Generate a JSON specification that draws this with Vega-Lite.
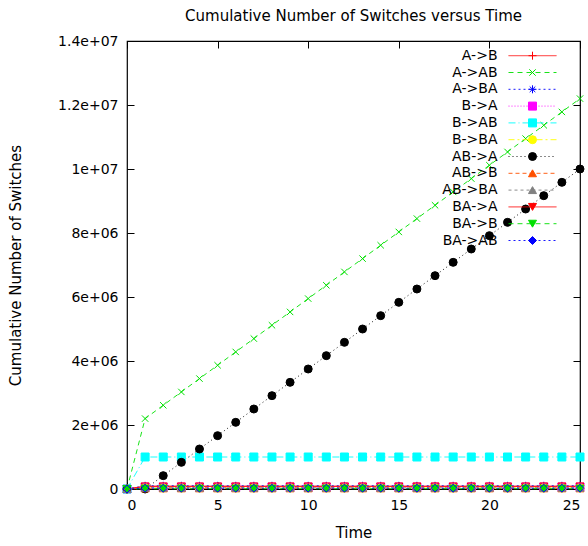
{
  "$schema": "https://vega.github.io/schema/vega-lite/v6.json",
  "autosize": {"type": "none"},
  "padding": {"left": 127, "top": 41, "right": 8, "bottom": 57},
  "width": 453,
  "height": 448,
  "background": "white",
  "title": {"text": "Cumulative Number of Switches versus Time", "offset": 10},
  "datasets": {
    "switches": [
      {"Time": 0, "A->B": 0, "A->AB": 0, "A->BA": 0, "B->A": 0, "B->AB": 0, "B->BA": 0, "AB->A": 0, "AB->B": 0, "AB->BA": 0, "BA->A": 0, "BA->B": 0, "BA->AB": 0},
      {"Time": 1, "A->B": 90000, "A->AB": 2200000, "A->BA": 100000, "B->A": 60000, "B->AB": 1000000, "B->BA": 30000, "AB->A": 0, "AB->B": 20000, "AB->BA": 40000, "BA->A": 80000, "BA->B": 10000, "BA->AB": 25000},
      {"Time": 2, "A->B": 90000, "A->AB": 2616667, "A->BA": 100000, "B->A": 60000, "B->AB": 1000000, "B->BA": 30000, "AB->A": 416667, "AB->B": 20000, "AB->BA": 40000, "BA->A": 80000, "BA->B": 10000, "BA->AB": 25000},
      {"Time": 3, "A->B": 90000, "A->AB": 3033333, "A->BA": 100000, "B->A": 60000, "B->AB": 1000000, "B->BA": 30000, "AB->A": 833333, "AB->B": 20000, "AB->BA": 40000, "BA->A": 80000, "BA->B": 10000, "BA->AB": 25000},
      {"Time": 4, "A->B": 90000, "A->AB": 3450000, "A->BA": 100000, "B->A": 60000, "B->AB": 1000000, "B->BA": 30000, "AB->A": 1250000, "AB->B": 20000, "AB->BA": 40000, "BA->A": 80000, "BA->B": 10000, "BA->AB": 25000},
      {"Time": 5, "A->B": 90000, "A->AB": 3866667, "A->BA": 100000, "B->A": 60000, "B->AB": 1000000, "B->BA": 30000, "AB->A": 1666667, "AB->B": 20000, "AB->BA": 40000, "BA->A": 80000, "BA->B": 10000, "BA->AB": 25000},
      {"Time": 6, "A->B": 90000, "A->AB": 4283333, "A->BA": 100000, "B->A": 60000, "B->AB": 1000000, "B->BA": 30000, "AB->A": 2083333, "AB->B": 20000, "AB->BA": 40000, "BA->A": 80000, "BA->B": 10000, "BA->AB": 25000},
      {"Time": 7, "A->B": 90000, "A->AB": 4700000, "A->BA": 100000, "B->A": 60000, "B->AB": 1000000, "B->BA": 30000, "AB->A": 2500000, "AB->B": 20000, "AB->BA": 40000, "BA->A": 80000, "BA->B": 10000, "BA->AB": 25000},
      {"Time": 8, "A->B": 90000, "A->AB": 5116667, "A->BA": 100000, "B->A": 60000, "B->AB": 1000000, "B->BA": 30000, "AB->A": 2916667, "AB->B": 20000, "AB->BA": 40000, "BA->A": 80000, "BA->B": 10000, "BA->AB": 25000},
      {"Time": 9, "A->B": 90000, "A->AB": 5533333, "A->BA": 100000, "B->A": 60000, "B->AB": 1000000, "B->BA": 30000, "AB->A": 3333333, "AB->B": 20000, "AB->BA": 40000, "BA->A": 80000, "BA->B": 10000, "BA->AB": 25000},
      {"Time": 10, "A->B": 90000, "A->AB": 5950000, "A->BA": 100000, "B->A": 60000, "B->AB": 1000000, "B->BA": 30000, "AB->A": 3750000, "AB->B": 20000, "AB->BA": 40000, "BA->A": 80000, "BA->B": 10000, "BA->AB": 25000},
      {"Time": 11, "A->B": 90000, "A->AB": 6366667, "A->BA": 100000, "B->A": 60000, "B->AB": 1000000, "B->BA": 30000, "AB->A": 4166667, "AB->B": 20000, "AB->BA": 40000, "BA->A": 80000, "BA->B": 10000, "BA->AB": 25000},
      {"Time": 12, "A->B": 90000, "A->AB": 6783333, "A->BA": 100000, "B->A": 60000, "B->AB": 1000000, "B->BA": 30000, "AB->A": 4583333, "AB->B": 20000, "AB->BA": 40000, "BA->A": 80000, "BA->B": 10000, "BA->AB": 25000},
      {"Time": 13, "A->B": 90000, "A->AB": 7200000, "A->BA": 100000, "B->A": 60000, "B->AB": 1000000, "B->BA": 30000, "AB->A": 5000000, "AB->B": 20000, "AB->BA": 40000, "BA->A": 80000, "BA->B": 10000, "BA->AB": 25000},
      {"Time": 14, "A->B": 90000, "A->AB": 7616667, "A->BA": 100000, "B->A": 60000, "B->AB": 1000000, "B->BA": 30000, "AB->A": 5416667, "AB->B": 20000, "AB->BA": 40000, "BA->A": 80000, "BA->B": 10000, "BA->AB": 25000},
      {"Time": 15, "A->B": 90000, "A->AB": 8033333, "A->BA": 100000, "B->A": 60000, "B->AB": 1000000, "B->BA": 30000, "AB->A": 5833333, "AB->B": 20000, "AB->BA": 40000, "BA->A": 80000, "BA->B": 10000, "BA->AB": 25000},
      {"Time": 16, "A->B": 90000, "A->AB": 8450000, "A->BA": 100000, "B->A": 60000, "B->AB": 1000000, "B->BA": 30000, "AB->A": 6250000, "AB->B": 20000, "AB->BA": 40000, "BA->A": 80000, "BA->B": 10000, "BA->AB": 25000},
      {"Time": 17, "A->B": 90000, "A->AB": 8866667, "A->BA": 100000, "B->A": 60000, "B->AB": 1000000, "B->BA": 30000, "AB->A": 6666667, "AB->B": 20000, "AB->BA": 40000, "BA->A": 80000, "BA->B": 10000, "BA->AB": 25000},
      {"Time": 18, "A->B": 90000, "A->AB": 9283333, "A->BA": 100000, "B->A": 60000, "B->AB": 1000000, "B->BA": 30000, "AB->A": 7083333, "AB->B": 20000, "AB->BA": 40000, "BA->A": 80000, "BA->B": 10000, "BA->AB": 25000},
      {"Time": 19, "A->B": 90000, "A->AB": 9700000, "A->BA": 100000, "B->A": 60000, "B->AB": 1000000, "B->BA": 30000, "AB->A": 7500000, "AB->B": 20000, "AB->BA": 40000, "BA->A": 80000, "BA->B": 10000, "BA->AB": 25000},
      {"Time": 20, "A->B": 90000, "A->AB": 10116667, "A->BA": 100000, "B->A": 60000, "B->AB": 1000000, "B->BA": 30000, "AB->A": 7916667, "AB->B": 20000, "AB->BA": 40000, "BA->A": 80000, "BA->B": 10000, "BA->AB": 25000},
      {"Time": 21, "A->B": 90000, "A->AB": 10533333, "A->BA": 100000, "B->A": 60000, "B->AB": 1000000, "B->BA": 30000, "AB->A": 8333333, "AB->B": 20000, "AB->BA": 40000, "BA->A": 80000, "BA->B": 10000, "BA->AB": 25000},
      {"Time": 22, "A->B": 90000, "A->AB": 10950000, "A->BA": 100000, "B->A": 60000, "B->AB": 1000000, "B->BA": 30000, "AB->A": 8750000, "AB->B": 20000, "AB->BA": 40000, "BA->A": 80000, "BA->B": 10000, "BA->AB": 25000},
      {"Time": 23, "A->B": 90000, "A->AB": 11366667, "A->BA": 100000, "B->A": 60000, "B->AB": 1000000, "B->BA": 30000, "AB->A": 9166667, "AB->B": 20000, "AB->BA": 40000, "BA->A": 80000, "BA->B": 10000, "BA->AB": 25000},
      {"Time": 24, "A->B": 90000, "A->AB": 11783333, "A->BA": 100000, "B->A": 60000, "B->AB": 1000000, "B->BA": 30000, "AB->A": 9583333, "AB->B": 20000, "AB->BA": 40000, "BA->A": 80000, "BA->B": 10000, "BA->AB": 25000},
      {"Time": 25, "A->B": 90000, "A->AB": 12200000, "A->BA": 100000, "B->A": 60000, "B->AB": 1000000, "B->BA": 30000, "AB->A": 10000000, "AB->B": 20000, "AB->BA": 40000, "BA->A": 80000, "BA->B": 10000, "BA->AB": 25000}
    ]
  },
  "data": {"name": "switches"},
  "transform": [
    {"fold": ["A->B", "A->AB", "A->BA", "B->A", "B->AB", "B->BA", "AB->A", "AB->B", "AB->BA", "BA->A", "BA->B", "BA->AB"], "as": ["series", "count"]},
    {"calculate": "datum.series", "as": "marker"}
  ],
  "layer": [
    {
      "mark": {"type": "line", "strokeWidth": 1, "opacity": 0.9},
      "encoding": {
        "x": {"field": "Time", "type": "quantitative", "scale": {"domain": [0, 25], "nice": false},
              "axis": {"orient": "bottom", "values": [0, 5, 10, 15, 20, 25], "title": "Time", "titlePadding": 13}},
        "y": {"field": "count", "type": "quantitative", "scale": {"domain": [0, 14000000], "nice": false},
              "axis": {"orient": "left", "values": [0, 2000000, 4000000, 6000000, 8000000, 10000000, 12000000, 14000000],
                       "labelExpr": "datum.value == 0 ? '0' : replace(format(datum.value, '~e'), regexp('e\\\\+(\\\\d)$'), 'e+0$1')",
                       "title": "Cumulative Number of Switches", "titlePadding": 34}},
        "stroke": {"field": "series", "type": "nominal",
                   "scale": {"domain": ["A->B", "A->AB", "A->BA", "B->A", "B->AB", "B->BA", "AB->A", "AB->B", "AB->BA", "BA->A", "BA->B", "BA->AB"],
                             "range": ["#ff0000", "#00e000", "#0000ff", "#ff00ff", "#00ffff", "#ffff00", "#000000", "#ff5000", "#808080", "#ff0000", "#00e000", "#0000ff"]},
                   "legend": {"orient": "none", "legendX": 398.5, "legendY": 7.7, "title": null, "symbolType": "M-6,0L6,0", "symbolSize": 64,
                              "symbolStrokeWidth": 1, "labelAlign": "right", "labelOffset": -42, "rowPadding": 2.8}},
        "strokeDash": {"field": "series", "type": "nominal",
                       "scale": {"domain": ["A->B", "A->AB", "A->BA", "B->A", "B->AB", "B->BA", "AB->A", "AB->B", "AB->BA", "BA->A", "BA->B", "BA->AB"],
                                 "range": [[1, 0], [5, 4], [2, 3], [1, 2], [7, 3, 1, 3], [6, 3, 2, 3], [1, 3], [4, 3], [3, 3], [1, 0], [5, 4], [2, 3]]}}
      }
    },
    {
      "mark": {"type": "point", "filled": false, "opacity": 1, "strokeWidth": 1, "size": 64},
      "encoding": {
        "x": {"field": "Time", "type": "quantitative", "axis": {"orient": "top", "values": [0, 5, 10, 15, 20, 25], "labels": false, "title": null}},
        "y": {"field": "count", "type": "quantitative", "axis": {"orient": "right", "values": [0, 2000000, 4000000, 6000000, 8000000, 10000000, 12000000, 14000000], "labels": false, "title": null}},
        "color": {"field": "marker", "type": "nominal", "sort": null,
                  "scale": {"range": ["#ff0000", "#00e000", "#0000ff", "#ff00ff", "#00ffff", "#ffff00", "#000000", "#ff5000", "#808080", "#ff0000", "#00e000", "#0000ff"]},
                  "legend": {"orient": "none", "legendX": 398.5, "legendY": 7.7, "title": null, "symbolSize": 64, "symbolStrokeWidth": 1,
                             "symbolFillColor": "transparent", "labelExpr": "''", "rowPadding": 2.8}},
        "fill": {"condition": {"test": "indexof(['B->AB', 'AB->A', 'AB->BA', 'BA->B'], datum.marker) >= 0", "field": "marker", "type": "nominal", "sort": null,
                               "scale": {"range": ["#ff0000", "#00e000", "#0000ff", "#ff00ff", "#00ffff", "#ffff00", "#000000", "#ff5000", "#808080", "#ff0000", "#00e000", "#0000ff"]},
                               "legend": null},
                 "value": "transparent"},
        "shape": {"field": "marker", "type": "nominal", "sort": null,
                  "scale": {"range": ["M-1,0L1,0M0,-1L0,1", "M-0.8,-0.8L0.8,0.8M-0.8,0.8L0.8,-0.8", "M-1,0L1,0M0,-1L0,1M-0.7,-0.7L0.7,0.7M-0.7,0.7L0.7,-0.7",
                                      "square", "square", "circle", "circle", "triangle-up", "triangle-up", "triangle-down", "triangle-down", "diamond"]},
                  "legend": {"orient": "none", "legendX": 398.5, "legendY": 7.7, "title": null, "symbolSize": 64, "symbolStrokeWidth": 1,
                             "symbolFillColor": "transparent", "labelExpr": "''", "rowPadding": 2.8}}
      }
    }
  ],
  "resolve": {"axis": {"x": "independent", "y": "independent"}},
  "config": {
    "font": "DejaVu Sans",
    "view": {"stroke": "#000000", "strokeWidth": 1.2},
    "title": {"font": "DejaVu Sans", "fontSize": 15, "fontWeight": "normal", "color": "#000000", "anchor": "middle"},
    "axis": {"domain": false, "grid": false, "tickSize": -7, "tickColor": "#000000", "tickWidth": 1,
             "labelFont": "DejaVu Sans", "labelFontSize": 14, "labelColor": "#000000", "labelPadding": 16,
             "titleFont": "DejaVu Sans", "titleFontSize": 15, "titleFontWeight": "normal", "titleColor": "#000000"},
    "legend": {"labelFont": "DejaVu Sans", "labelFontSize": 14, "labelColor": "#000000", "padding": 0}
  }
}
